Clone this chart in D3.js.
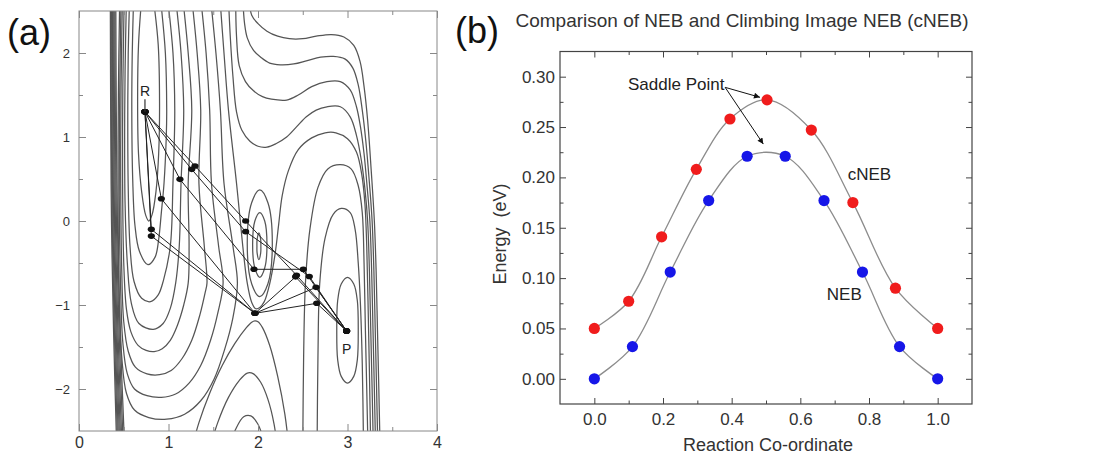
<!DOCTYPE html>
<html>
<head>
<meta charset="utf-8">
<script src="https://cdn.jsdelivr.net/npm/d3@7/dist/d3.min.js"></script>
<style>
html,body{margin:0;padding:0;background:#fff;}
svg{display:block;}
text{font-family:"Liberation Sans",Arial,sans-serif;}
</style>
</head>
<body>
<svg id="chart" width="1093" height="454" xmlns="http://www.w3.org/2000/svg"></svg>
<script>
// ================= Panel (a) data: contour lines, [r_AB, x] =================
const wallContours = [
  [[0.350,2.65],[0.354,1.3],[0.363,0],[0.386,-1.3],[0.420,-2.65]],
  [[0.357,2.65],[0.361,1.3],[0.371,0],[0.395,-1.3],[0.431,-2.65]],
  [[0.364,2.65],[0.369,1.3],[0.379,0],[0.404,-1.3],[0.442,-2.65]],
  [[0.372,2.65],[0.377,1.3],[0.388,0],[0.414,-1.3],[0.454,-2.65]],
  [[0.381,2.65],[0.386,1.3],[0.397,0],[0.424,-1.3],[0.466,-2.65]],
  [[0.390,2.65],[0.396,1.3],[0.407,0],[0.435,-1.3],[0.479,-2.65]],
  [[0.400,2.65],[0.406,1.3],[0.418,0],[0.447,-1.3],[0.493,-2.65]],
  [[0.411,2.65],[0.417,1.3],[0.429,0],[0.459,-1.3],[0.508,-2.65]]
];
const reactantContours = [
  [[0.70,2.65],[0.665,2.1],[0.655,1.4],[0.665,0.8],[0.70,0.35],[0.745,0.07],[0.78,0.0],[0.815,0.07],[0.86,0.35],[0.89,0.8],[0.90,1.4],[0.885,2.1],[0.83,2.65]],
  [[0.61,2.65],[0.595,2.0],[0.59,1.3],[0.60,0.5],[0.625,-0.05],[0.675,-0.36],[0.77,-0.52],[0.85,-0.43],[0.89,-0.22],[0.92,0.1],[0.95,0.45],[0.975,1.0],[0.98,1.32],[0.965,2.0],[0.91,2.65]],
  [[0.565,2.65],[0.55,2.0],[0.545,1.2],[0.55,0.4],[0.57,-0.3],[0.615,-0.72],[0.70,-0.92],[0.80,-0.96],[0.885,-0.88],[0.945,-0.70],[1.02,-0.3],[1.05,0.45],[1.07,1.32],[1.05,2.0],[0.99,2.65]],
  [[0.53,2.65],[0.515,1.8],[0.51,1.0],[0.515,0.2],[0.54,-0.5],[0.585,-0.98],[0.67,-1.22],[0.83,-1.29],[0.94,-1.22],[1.02,-1.04],[1.08,-0.74],[1.12,-0.3],[1.14,0.45],[1.17,1.32],[1.14,2.0],[1.08,2.65]],
  [[0.505,2.65],[0.49,1.6],[0.487,0.5],[0.50,-0.5],[0.53,-1.05],[0.58,-1.32],[0.66,-1.48],[0.75,-1.54],[0.84,-1.555],[0.93,-1.52],[1.02,-1.42],[1.10,-1.24],[1.17,-1.0],[1.22,-0.74],[1.23,-0.3],[1.22,0.45],[1.26,1.32],[1.22,2.0],[1.16,2.65]],
  [[0.485,2.65],[0.47,1.6],[0.466,0.5],[0.478,-0.6],[0.50,-1.2],[0.55,-1.55],[0.63,-1.74],[0.76,-1.82],[0.90,-1.83],[1.03,-1.78],[1.15,-1.64],[1.26,-1.42],[1.35,-1.12],[1.41,-0.85],[1.43,-0.74],[1.40,-0.3],[1.34,0.45],[1.36,1.32],[1.32,2.0],[1.26,2.65]],
  [[0.47,2.65],[0.455,1.5],[0.45,0.3],[0.465,-0.8],[0.49,-1.45],[0.54,-1.82],[0.62,-2.0],[0.76,-2.08],[0.92,-2.10],[1.08,-2.06],[1.23,-1.93],[1.36,-1.72],[1.47,-1.42],[1.55,-1.1],[1.61,-0.74],[1.56,-0.3],[1.48,0.45],[1.46,1.32],[1.42,2.0],[1.36,2.65]],
  [[0.455,2.65],[0.44,1.5],[0.437,0.2],[0.45,-0.9],[0.48,-1.65],[0.53,-2.05],[0.62,-2.25],[0.78,-2.34],[0.98,-2.36],[1.18,-2.30],[1.36,-2.14],[1.51,-1.88],[1.63,-1.52],[1.72,-1.15],[1.77,-0.74],[1.72,-0.3],[1.62,0.45],[1.58,1.32],[1.53,2.0],[1.47,2.65]]
];
const saddleContours = [
  [[1.575,2.65],[1.62,2.0],[1.67,1.32],[1.76,0.45],[1.83,-0.3],[1.88,-0.74],[1.93,-0.97],[1.975,-1.045],[2.02,-1.03],[2.07,-0.96],[2.13,-0.75],[2.19,-0.4],[2.23,-0.05],[2.27,0.3],[2.34,0.6],[2.45,0.85],[2.6,0.99],[2.75,1.05],[2.87,1.05],[3.0,0.98],[3.10,0.82],[3.16,0.55],[3.195,0.2],[3.215,-0.3],[3.23,-1.0],[3.245,-1.8],[3.26,-2.75]]
];
const ridgeContours = [
  [[1.25,-2.75],[1.34,-2.4],[1.46,-2.05],[1.6,-1.72],[1.74,-1.46],[1.87,-1.27],[1.93,-1.205],[1.965,-1.19],[2.0,-1.2],[2.05,-1.27],[2.13,-1.48],[2.22,-1.85],[2.30,-2.3],[2.35,-2.75]],
  [[1.45,-2.75],[1.55,-2.4],[1.67,-2.1],[1.79,-1.9],[1.88,-1.81],[1.95,-1.82],[2.03,-1.92],[2.11,-2.12],[2.18,-2.42],[2.22,-2.75]],
  [[1.66,-2.75],[1.75,-2.48],[1.84,-2.33],[1.92,-2.32],[2.0,-2.42],[2.06,-2.6],[2.09,-2.75]]
];
const waveContours = [
  [[1.67,2.65],[1.69,2.2],[1.72,1.72],[1.76,1.30],[1.82,1.08],[1.91,0.95],[2.0,0.89],[2.10,0.88],[2.2,0.92],[2.32,1.0],[2.43,1.12],[2.54,1.24],[2.65,1.32],[2.77,1.36],[2.92,1.36],[3.03,1.24],[3.10,1.02],[3.155,0.72],[3.195,0.38],[3.225,0.0],[3.245,-0.6],[3.26,-1.3],[3.275,-2.0],[3.29,-2.75]],
  [[1.75,2.65],[1.76,2.2],[1.79,1.85],[1.86,1.66],[1.95,1.55],[2.05,1.48],[2.15,1.45],[2.32,1.44],[2.45,1.5],[2.6,1.6],[2.77,1.66],[2.92,1.66],[3.03,1.56],[3.10,1.36],[3.145,1.12],[3.185,0.8],[3.22,0.4],[3.25,0.0],[3.27,-0.6],[3.285,-1.3],[3.30,-2.0],[3.315,-2.75]],
  [[1.83,2.65],[1.85,2.35],[1.88,2.18],[1.95,2.03],[2.03,1.95],[2.13,1.88],[2.25,1.86],[2.40,1.87],[2.55,1.91],[2.70,1.95],[2.84,1.96],[2.97,1.93],[3.06,1.82],[3.12,1.62],[3.165,1.32],[3.205,0.95],[3.245,0.45],[3.275,0.0],[3.295,-0.6],[3.31,-1.3],[3.325,-2.0],[3.34,-2.75]],
  [[1.90,2.65],[1.93,2.45],[2.0,2.35],[2.1,2.26],[2.22,2.2],[2.35,2.17],[2.5,2.17],[2.65,2.2],[2.82,2.22],[2.96,2.19],[3.07,2.09],[3.14,1.9],[3.185,1.6],[3.225,1.2],[3.265,0.6],[3.30,0.0],[3.32,-0.6],[3.335,-1.3],[3.35,-2.0],[3.365,-2.75]]
];
const productContours = [
  [[2.50,-2.75],[2.51,-1.6],[2.53,-0.74],[2.58,-0.1],[2.67,0.4],[2.78,0.62],[2.92,0.67],[3.04,0.62],[3.12,0.42],[3.165,0.1],[3.185,-0.5],[3.20,-1.3],[3.215,-2.0],[3.23,-2.75]],
  [[2.66,-2.75],[2.67,-1.6],[2.69,-0.74],[2.75,-0.2],[2.84,0.08],[2.93,0.15],[3.03,0.1],[3.085,-0.1],[3.12,-0.5],[3.145,-1.0],[3.165,-1.7],[3.18,-2.75]]
];
const productWell = [
  [[3.0,-0.67],[3.07,-0.75],[3.11,-0.95],[3.12,-1.3],[3.11,-1.65],[3.07,-1.85],[3.0,-1.93],[2.93,-1.85],[2.89,-1.65],[2.88,-1.3],[2.89,-0.95],[2.93,-0.75]]
];
const humpContours = [
  [[2.01,-0.14],[2.03,-0.22],[2.032,-0.30],[2.03,-0.38],[2.01,-0.46],[1.99,-0.38],[1.988,-0.30],[1.99,-0.22]],
  [[2.02,0.10],[2.075,0.0],[2.10,-0.28],[2.075,-0.56],[2.02,-0.67],[1.965,-0.56],[1.94,-0.28],[1.965,0.0]],
  [[2.02,0.37],[2.11,0.22],[2.16,-0.27],[2.11,-0.75],[2.02,-0.90],[1.93,-0.75],[1.88,-0.27],[1.93,0.22]]
];
// elastic band chains (images) from R to P
const bandChains = [
  [[0.737,1.30],[1.296,0.655],[1.862,0.0],[2.43,-0.645],[2.99,-1.31]],
  [[0.737,1.30],[1.259,0.615],[1.862,-0.127],[2.573,-0.66],[2.99,-1.31]],
  [[0.737,1.30],[1.128,0.496],[1.955,-0.575],[2.506,-0.575],[2.99,-1.31]],
  [[0.737,1.30],[0.92,0.265],[1.966,-1.099],[2.42,-0.665],[2.99,-1.31]],
  [[0.737,1.30],[0.808,-0.099],[1.966,-1.099],[2.648,-0.79],[2.99,-1.31]],
  [[0.737,1.30],[0.808,-0.18],[1.966,-1.099],[2.656,-0.98],[2.99,-1.31]]
];
const endLabels = [{t:"R", x:0.737, y:1.55}, {t:"P", x:2.99, y:-1.52}];
const aXTicks = [0,1,2,3,4];
const aXMinor = [0.5,1.5,2.5,3.5];
const aYTicks = [-2,-1,0,1,2];
const aYMinor = [-1.5,-0.5,0.5,1.5];

// ================= Panel (b) data =================
const cnebCoord  = [0.0, 0.100, 0.196, 0.297, 0.395, 0.503, 0.632, 0.753, 0.877, 1.0];
const cnebEnergy = [0.050, 0.077, 0.141, 0.208, 0.258, 0.277, 0.247, 0.175, 0.090, 0.050];
const nebCoord   = [0.0, 0.111, 0.221, 0.333, 0.445, 0.556, 0.669, 0.781, 0.889, 1.0];
const nebEnergy  = [0.000, 0.032, 0.106, 0.177, 0.221, 0.221, 0.177, 0.106, 0.032, 0.000];
const bXTicks = [0.0,0.2,0.4,0.6,0.8,1.0];
const bXMinor = [0.1,0.3,0.5,0.7,0.9];
const bYTicks = [0.00,0.05,0.10,0.15,0.20,0.25,0.30];
const bYMinor = [0.025,0.075,0.125,0.175,0.225,0.275];
const saddleArrowFrom = [0.381, 0.2894];
const saddleArrowTo = [[0.4825, 0.2795],[0.4921, 0.2331]];
const bLabels = [
  {t:"Saddle Point", x:0.098, y:0.2868},
  {t:"cNEB", x:0.738, y:0.1974},
  {t:"NEB", x:0.677, y:0.0782}
];

// ================= drawing =================
const svg = d3.select("#chart");

// ---------- panel (a) ----------
const ax = d3.scaleLinear().domain([0,4]).range([79,437]);
const ay = d3.scaleLinear().domain([-2.5,2.5]).range([431,11]);

const defs = svg.append("defs");
defs.append("clipPath").attr("id","clipA")
  .append("rect").attr("x",ax(0)).attr("y",ay(2.5)).attr("width",ax(4)-ax(0)).attr("height",ay(-2.5)-ay(2.5));

const openLine = d3.line().x(d=>ax(d[0])).y(d=>ay(d[1])).curve(d3.curveCatmullRom.alpha(0.5));
const closedLine = d3.line().x(d=>ax(d[0])).y(d=>ay(d[1])).curve(d3.curveCatmullRomClosed.alpha(0.5));

const gC = svg.append("g").attr("clip-path","url(#clipA)")
  .attr("fill","none").attr("stroke","#555").attr("stroke-width",1.25);
[wallContours, reactantContours, saddleContours, ridgeContours, waveContours, productContours].forEach(set=>{
  gC.selectAll(null).data(set).enter().append("path").attr("d",openLine);
});
[productWell, humpContours].forEach(set=>{
  gC.selectAll(null).data(set).enter().append("path").attr("d",closedLine);
});

// band chains
const straight = d3.line().x(d=>ax(d[0])).y(d=>ay(d[1]));
const gB = svg.append("g");
gB.selectAll("path.band").data(bandChains).enter().append("path")
  .attr("d",straight).attr("fill","none").attr("stroke","#222").attr("stroke-width",1);
const imgs = [];
bandChains.forEach(ch=>ch.forEach(p=>imgs.push(p)));
gB.selectAll("ellipse").data(imgs).enter().append("ellipse")
  .attr("cx",d=>ax(d[0])).attr("cy",d=>ay(d[1])).attr("rx",3.6).attr("ry",2.8).attr("fill","#111");
gB.append("path").attr("d",straight([[0.737,1.30],[0.737,1.45]])).attr("stroke","#333").attr("stroke-width",1.2);
gB.selectAll("text").data(endLabels).enter().append("text")
  .attr("x",d=>ax(d.x)).attr("y",d=>ay(d.y)).attr("text-anchor","middle")
  .attr("dominant-baseline","central").attr("font-size",14).attr("fill","#222").text(d=>d.t);

// axes (a)
function cleanAxis(g){ g.select(".domain").remove(); g.selectAll("line").attr("stroke","#888"); g.selectAll("text").attr("fill","#333").attr("font-family","Liberation Sans, Arial, sans-serif"); }
svg.append("g").attr("transform",`translate(${ax(0)},0)`)
  .call(d3.axisLeft(ay).tickValues(aYTicks).tickSize(-7).tickPadding(9).tickFormat(d3.format("d")))
  .call(cleanAxis).call(g=>g.selectAll("text").attr("font-size",13));
svg.append("g").attr("transform",`translate(${ax(0)},0)`)
  .call(d3.axisLeft(ay).tickValues(aYMinor).tickSize(-4).tickFormat("")).call(cleanAxis);
svg.append("g").attr("transform",`translate(${ax(4)},0)`)
  .call(d3.axisRight(ay).tickValues(aYTicks).tickSize(-7).tickFormat("")).call(cleanAxis);
svg.append("g").attr("transform",`translate(${ax(4)},0)`)
  .call(d3.axisRight(ay).tickValues(aYMinor).tickSize(-4).tickFormat("")).call(cleanAxis);
svg.append("g").attr("transform",`translate(0,${ay(-2.5)})`)
  .call(d3.axisBottom(ax).tickValues(aXTicks).tickSize(-7).tickPadding(6).tickFormat(d3.format("d")))
  .call(cleanAxis).call(g=>g.selectAll("text").attr("font-size",16));
svg.append("g").attr("transform",`translate(0,${ay(-2.5)})`)
  .call(d3.axisBottom(ax).tickValues(aXMinor).tickSize(-4).tickFormat("")).call(cleanAxis);
svg.append("g").attr("transform",`translate(0,${ay(2.5)})`)
  .call(d3.axisTop(ax).tickValues(aXTicks).tickSize(-7).tickFormat("")).call(cleanAxis);
svg.append("g").attr("transform",`translate(0,${ay(2.5)})`)
  .call(d3.axisTop(ax).tickValues(aXMinor).tickSize(-4).tickFormat("")).call(cleanAxis);
svg.append("rect").attr("x",ax(0)).attr("y",ay(2.5)).attr("width",ax(4)-ax(0)).attr("height",ay(-2.5)-ay(2.5))
  .attr("fill","none").attr("stroke","#888").attr("stroke-width",1);

svg.append("text").attr("x",7).attr("y",45).attr("font-family","Open Sans, sans-serif")
  .attr("font-size",36).attr("fill","#111").text("(a)");

// ---------- panel (b) ----------
const bx = d3.scaleLinear().domain([-0.1,1.1]).range([560,972]);
const by = d3.scaleLinear().domain([-0.025,0.325]).range([404,51.5]);

function cleanAxisB(g){ g.select(".domain").remove(); g.selectAll("line").attr("stroke","#444"); g.selectAll("text").attr("fill","#333").attr("font-family","Liberation Sans, Arial, sans-serif"); }
svg.append("g").attr("transform",`translate(${bx(-0.1)},0)`)
  .call(d3.axisLeft(by).tickValues(bYTicks).tickSize(-6).tickPadding(5).tickFormat(d3.format(".2f")))
  .call(cleanAxisB).call(g=>g.selectAll("text").attr("font-size",17));
svg.append("g").attr("transform",`translate(${bx(-0.1)},0)`)
  .call(d3.axisLeft(by).tickValues(bYMinor).tickSize(-3.5).tickFormat("")).call(cleanAxisB);
svg.append("g").attr("transform",`translate(${bx(1.1)},0)`)
  .call(d3.axisRight(by).tickValues(bYTicks).tickSize(-6).tickFormat("")).call(cleanAxisB);
svg.append("g").attr("transform",`translate(${bx(1.1)},0)`)
  .call(d3.axisRight(by).tickValues(bYMinor).tickSize(-3.5).tickFormat("")).call(cleanAxisB);
svg.append("g").attr("transform",`translate(0,${by(-0.025)})`)
  .call(d3.axisBottom(bx).tickValues(bXTicks).tickSize(-6).tickPadding(9).tickFormat(d3.format(".1f")))
  .call(cleanAxisB).call(g=>g.selectAll("text").attr("font-size",17));
svg.append("g").attr("transform",`translate(0,${by(-0.025)})`)
  .call(d3.axisBottom(bx).tickValues(bXMinor).tickSize(-3.5).tickFormat("")).call(cleanAxisB);
svg.append("g").attr("transform",`translate(0,${by(0.325)})`)
  .call(d3.axisTop(bx).tickValues(bXTicks).tickSize(-6).tickFormat("")).call(cleanAxisB);
svg.append("g").attr("transform",`translate(0,${by(0.325)})`)
  .call(d3.axisTop(bx).tickValues(bXMinor).tickSize(-3.5).tickFormat("")).call(cleanAxisB);
svg.append("rect").attr("x",bx(-0.1)).attr("y",by(0.325)).attr("width",bx(1.1)-bx(-0.1)).attr("height",by(-0.025)-by(0.325))
  .attr("fill","none").attr("stroke","#444").attr("stroke-width",1.2);

const curveB = d3.line().x(d=>bx(d[0])).y(d=>by(d[1])).curve(d3.curveCatmullRom.alpha(0.5));
const cneb = cnebCoord.map((c,i)=>[c,cnebEnergy[i]]);
const neb = nebCoord.map((c,i)=>[c,nebEnergy[i]]);
svg.append("path").attr("d",curveB(cneb)).attr("fill","none").attr("stroke","#8c8c8c").attr("stroke-width",1.3);
svg.append("path").attr("d",curveB(neb)).attr("fill","none").attr("stroke","#8c8c8c").attr("stroke-width",1.3);
svg.selectAll("circle.cneb").data(cneb).enter().append("circle").attr("class","cneb")
  .attr("cx",d=>bx(d[0])).attr("cy",d=>by(d[1])).attr("r",5.6).attr("fill","#f01c1c");
svg.selectAll("circle.neb").data(neb).enter().append("circle").attr("class","neb")
  .attr("cx",d=>bx(d[0])).attr("cy",d=>by(d[1])).attr("r",5.6).attr("fill","#1616e8");

defs.append("marker").attr("id","arrow").attr("viewBox","0 0 10 10").attr("refX",10).attr("refY",5)
  .attr("markerWidth",8).attr("markerHeight",6).attr("markerUnits","userSpaceOnUse").attr("orient","auto")
  .append("path").attr("d","M0,0 L10,5 L0,10 z").attr("fill","#111");
saddleArrowTo.forEach(t=>{
  svg.append("line").attr("x1",bx(saddleArrowFrom[0])).attr("y1",by(saddleArrowFrom[1]))
    .attr("x2",bx(t[0])).attr("y2",by(t[1])).attr("stroke","#111").attr("stroke-width",1)
    .attr("marker-end","url(#arrow)");
});
svg.selectAll("text.blab").data(bLabels).enter().append("text").attr("class","blab")
  .attr("x",d=>bx(d.x)).attr("y",d=>by(d.y)).attr("font-size",17).attr("fill","#222").text(d=>d.t);

svg.append("text").attr("x",742).attr("y",27).attr("text-anchor","middle").attr("font-size",19)
  .attr("fill","#333").text("Comparison of NEB and Climbing Image NEB (cNEB)");
svg.append("text").attr("transform","translate(506,234) rotate(-90)").attr("text-anchor","middle")
  .attr("font-size",18).attr("fill","#333").attr("xml:space","preserve").text("Energy  (eV)");
svg.append("text").attr("x",768).attr("y",451).attr("text-anchor","middle").attr("font-size",18)
  .attr("fill","#333").text("Reaction Co-ordinate");
svg.append("text").attr("x",455).attr("y",43).attr("font-family","Open Sans, sans-serif")
  .attr("font-size",36).attr("fill","#111").text("(b)");
</script>
</body>
</html>
